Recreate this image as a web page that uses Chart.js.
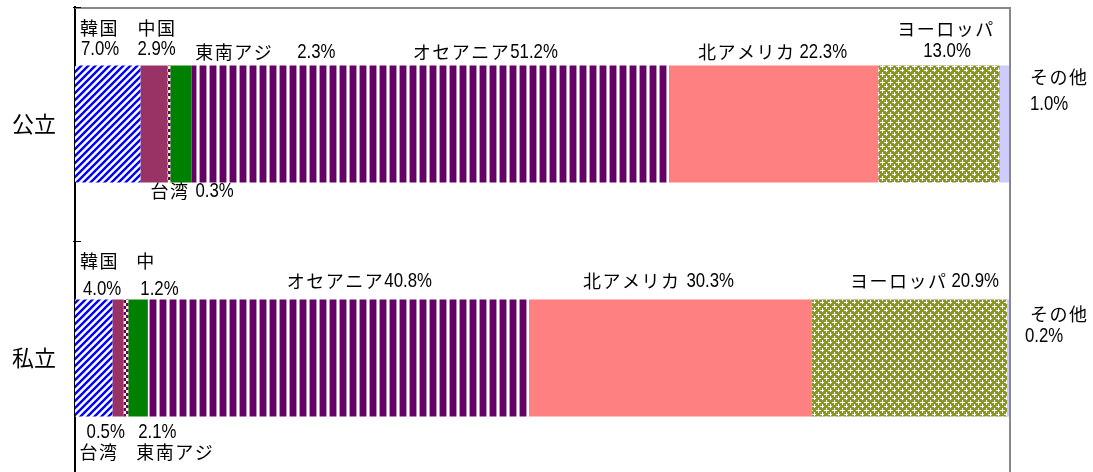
<!DOCTYPE html>
<html>
<head>
<meta charset="utf-8">
<script src="https://cdn.jsdelivr.net/npm/chart.js@4"></script>
<style>
  html, body { margin: 0; padding: 0; background: #fff; overflow: hidden; }
  #wrap { position: relative; width: 1093px; height: 484px; }
</style>
</head>
<body>
<div id="wrap"><canvas id="chart"></canvas></div>
<script>
let categories = ["公立", "私立"];
let regions = ["韓国", "中国", "台湾", "東南アジ", "オセアニア", "北アメリカ", "ヨーロッパ", "その他"];
let kouritsu = [7.0, 2.9, 0.3, 2.3, 51.2, 22.3, 13.0, 1.0];
let shiritsu = [4.0, 1.2, 0.5, 2.1, 40.8, 30.3, 20.9, 0.2];

// where each label sits, relative to its segment: [from start/end, dx, top/bottom edge, dy]
let spots = [
  [
    { n: ["s", 5, "t", -37], v: ["s", 6, "t", -16] },
    { n: ["s", -3, "t", -37], v: ["s", -3, "t", -16] },
    { n: ["s", -17, "b", 9], v: ["after", 6] },
    { n: ["s", 25, "t", -13], v: ["s", 127, "t", -13] },
    { n: ["s", 221, "t", -13], v: ["after", 0] },
    { n: ["s", 28, "t", -13], v: ["after", 4] },
    { n: ["s", 19, "t", -36], v: ["s", 45, "t", -14] },
    { n: ["e", 21, "t", 12], v: ["e", 21, "t", 39] },
  ],
  [
    { n: ["s", 5, "t", -38], v: ["s", 8, "t", -10] },
    { n: ["s", 24, "t", -38], v: ["s", 28, "t", -10], text: "中" },
    { n: ["s", -44, "b", 36], v: ["s", -37, "b", 16] },
    { n: ["s", 8, "b", 36], v: ["s", 10, "b", 16] },
    { n: ["s", 139, "t", -18], v: ["after", 0] },
    { n: ["s", 54, "t", -18], v: ["after", 6] },
    { n: ["s", 38, "t", -18], v: ["after", 4] },
    { n: ["e", 21, "t", 15], v: ["e", 16, "t", 37] },
  ],
];

function pattern(w, h, paint) {
  const c = document.createElement("canvas");
  c.width = w;
  c.height = h;
  const g = c.getContext("2d");
  paint(g);
  return g.createPattern(c, "repeat");
}

const blueDiag = pattern(7, 7, (g) => {
  g.fillStyle = "#fff";
  g.fillRect(0, 0, 7, 7);
  g.strokeStyle = "#0000ff";
  g.lineWidth = 2.4;
  g.beginPath();
  g.moveTo(-1, 8); g.lineTo(8, -1);
  g.moveTo(-1, 1); g.lineTo(1, -1);
  g.moveTo(6, 8); g.lineTo(8, 6);
  g.stroke();
});

const purpleStripes = pattern(10, 1, (g) => {
  g.fillStyle = "#fff";
  g.fillRect(0, 0, 10, 1);
  g.fillStyle = "#660066";
  g.fillRect(0, 0, 6, 1);
  g.fillStyle = "#b890b8";
  g.fillRect(6, 0, 1, 1);
  g.fillRect(9, 0, 1, 1);
});

const dotted = pattern(6, 6, (g) => {
  g.fillStyle = "#660066";
  g.fillRect(0, 0, 6, 6);
  g.fillStyle = "#fff4cc";
  g.fillRect(0, 0, 3, 3);
  g.fillRect(3, 3, 3, 3);
});

const oliveCross = pattern(8, 8, (g) => {
  g.fillStyle = "#8c961e";
  g.fillRect(0, 0, 8, 8);
  g.fillStyle = "#fff";
  [[2, 2], [6, 6]].forEach(([cx, cy]) => {
    g.fillRect(cx, cy - 2, 1, 5);
    g.fillRect(cx - 2, cy, 5, 1);
  });
});

let fills = [blueDiag, "#993366", dotted, "#008000", purpleStripes, "#ff8080", oliveCross, "#ccccff"];

const frame = {
  id: "frame",
  afterDatasetsDraw(chart) {
    const { ctx, chartArea: a } = chart;
    const y = chart.scales.y;
    ctx.save();
    ctx.strokeStyle = "#888";
    ctx.lineWidth = 2;
    ctx.beginPath();
    ctx.moveTo(a.left, a.top + 1);
    ctx.lineTo(a.right + 1, a.top + 1);
    ctx.lineTo(a.right + 1, chart.height);
    ctx.stroke();
    // small inward ticks on the category axis
    ctx.strokeStyle = "#000";
    ctx.lineWidth = 1;
    const mid = (y.getPixelForTick(0) + y.getPixelForTick(1)) / 2;
    [a.top + 0.5, Math.round(mid) + 0.5].forEach((p) => {
      ctx.beginPath();
      ctx.moveTo(a.left - 2, p);
      ctx.lineTo(a.left + 6, p);
      ctx.stroke();
    });
    ctx.restore();
  },
};

const segLabels = {
  id: "segLabels",
  afterDraw(chart) {
    const ctx = chart.ctx;
    ctx.save();
    ctx.fillStyle = "#000";
    ctx.textBaseline = "middle";
    ctx.textAlign = "left";
    spots.forEach((row, b) => {
      const vals = b === 0 ? kouritsu : shiritsu;
      row.forEach((s, i) => {
        const el = chart.getDatasetMeta(i).data[b];
        const top = el.y - el.height / 2;
        const bot = el.y + el.height / 2;
        const start = Math.min(el.base, el.x);
        const end = Math.max(el.base, el.x);
        const place = (p) => [
          (p[0] === "s" ? start : end) + p[1],
          (p[2] === "t" ? top : bot) + p[3],
        ];
        const [nx, ny] = place(s.n);
        const name = s.text || regions[i];
        ctx.font = '18px "Noto Sans CJK JP"';
        ctx.letterSpacing = "1.5px";
        ctx.fillText(name, nx, ny);
        const nw = ctx.measureText(name).width;
        ctx.letterSpacing = "0px";
        let vx, vy;
        if (s.v[0] === "after") {
          vx = nx + nw + s.v[1];
          vy = ny;
        } else {
          [vx, vy] = place(s.v);
        }
        ctx.save();
        ctx.font = '21px "Liberation Sans", Arial, sans-serif';
        ctx.translate(vx, vy);
        ctx.scale(0.8, 1);
        ctx.fillText(vals[i].toFixed(1) + "%", 0, 0);
        ctx.restore();
      });
    });
    ctx.restore();
  },
};

const chart = new Chart(document.getElementById("chart"), {
  type: "bar",
  data: {
    labels: categories,
    datasets: regions.map((r, i) => ({
      label: r,
      data: [kouritsu[i], shiritsu[i]],
      backgroundColor: fills[i],
      borderWidth: 0,
      categoryPercentage: 1,
      barPercentage: 0.5,
    })),
  },
  options: {
    indexAxis: "y",
    responsive: true,
    maintainAspectRatio: false,
    animation: false,
    events: [],
    layout: { padding: { left: 0, right: 84, top: 7, bottom: 9 } },
    scales: {
      x: {
        stacked: true,
        min: 0,
        max: 100,
        display: false,
      },
      y: {
        stacked: true,
        grid: { display: false },
        border: { display: true, color: "#000", width: 2 },
        ticks: {
          color: "#000",
          padding: 11,
          font: { family: "Noto Sans CJK JP", size: 22 },
        },
        afterFit(scale) {
          scale.width = 75;
          scale.paddingTop = 0;
          scale.paddingBottom = 0;
        },
      },
    },
    plugins: {
      legend: { display: false },
      tooltip: { enabled: false },
    },
  },
  plugins: [frame, segLabels],
});
</script>
</body>
</html>
